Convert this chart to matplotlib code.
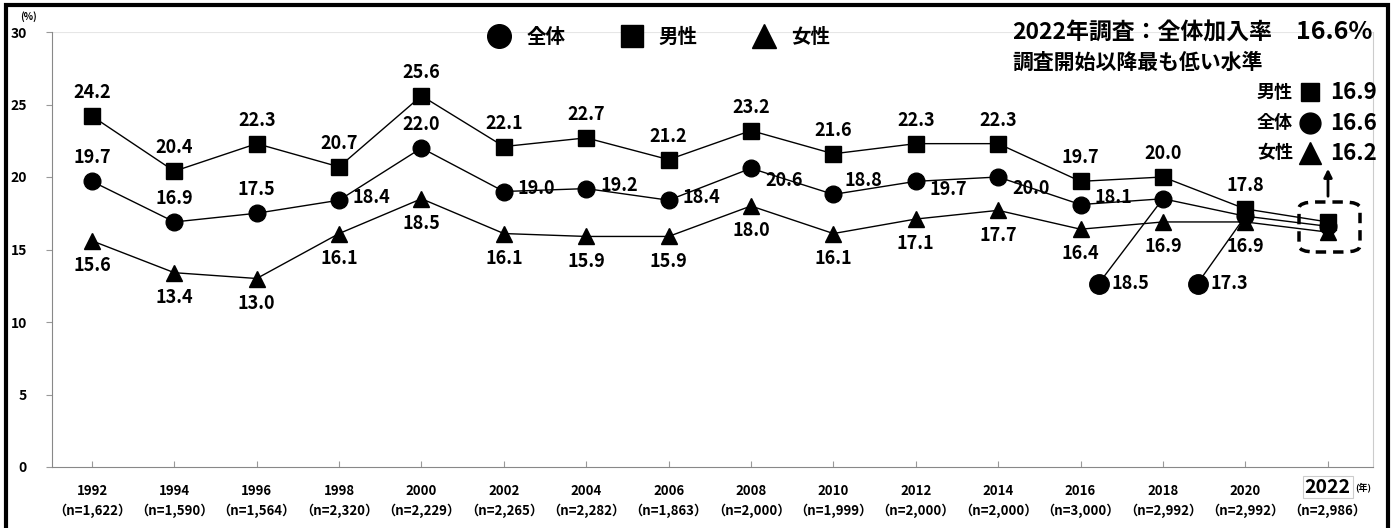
import numpy as np
import matplotlib
matplotlib.use("Agg")
import matplotlib.pyplot as plt
from matplotlib.lines import Line2D
from matplotlib.patches import Rectangle, FancyBboxPatch, FancyArrowPatch

plt.rcParams['font.family'] = ['Noto Sans CJK JP', 'DejaVu Sans']
plt.rcParams['font.weight'] = 'bold'

years = [1992, 1994, 1996, 1998, 2000, 2002, 2004, 2006, 2008, 2010,
         2012, 2014, 2016, 2018, 2020, 2022]
n_labels = ["1,622", "1,590", "1,564", "2,320", "2,229", "2,265", "2,282", "1,863",
            "2,000", "1,999", "2,000", "2,000", "3,000", "2,992", "2,992", "2,986"]
total = [19.7, 16.9, 17.5, 18.4, 22.0, 19.0, 19.2, 18.4, 20.6, 18.8,
         19.7, 20.0, 18.1, 18.5, 17.3, 16.6]
male = [24.2, 20.4, 22.3, 20.7, 25.6, 22.1, 22.7, 21.2, 23.2, 21.6,
        22.3, 22.3, 19.7, 20.0, 17.8, 16.9]
female = [15.6, 13.4, 13.0, 16.1, 18.5, 16.1, 15.9, 15.9, 18.0, 16.1,
          17.1, 17.7, 16.4, 16.9, 16.9, 16.2]

W, H = 1393, 528
fig = plt.figure(figsize=(W / 100, H / 100), dpi=100)
ax = fig.add_axes([52 / W, 1 - 467 / H, (1373 - 52) / W, (467 - 32) / H])


def px(x, y):
    return (x / W, 1 - y / H)


lw = 1.0
ax.plot(years, male, color='black', lw=lw, marker='s', ms=11, zorder=3)
ax.plot(years, total, color='black', lw=lw, marker='o', ms=12, zorder=3)
ax.plot(years, female, color='black', lw=lw, marker='^', ms=12, zorder=3)

ax.set_xlim(1991.03, 2023.1)
ax.set_ylim(0, 30)
ax.set_yticks(range(0, 31, 5))
ax.set_xticks(years)
ax.set_xticklabels([])
ax.tick_params(axis='x', direction='in', length=4, color='#999999')
ax.tick_params(axis='y', direction='out', length=4, color='#999999',
               labelsize=10, pad=14)
for lab in ax.get_yticklabels():
    lab.set_fontweight('bold')
ax.axhline(30, color='#e6e6e6', lw=0.8, zorder=0)
for s in ['left', 'bottom']:
    ax.spines[s].set_color('#888888')
ax.spines['right'].set_color('#cccccc')
ax.spines['top'].set_visible(False)

fs = 13
# male labels above
for x, v in zip(years[:-1], male[:-1]):
    ax.annotate(f"{v:.1f}", (x, v), xytext=(0, 10), textcoords='offset points',
                ha='center', va='bottom', fontsize=fs, fontweight='bold')

# female labels below
for x, v in zip(years[:-1], female[:-1]):
    ax.annotate(f"{v:.1f}", (x, v), xytext=(0, -11), textcoords='offset points',
                ha='center', va='top', fontsize=fs, fontweight='bold')

# total labels
above = {1992, 1994, 1996, 2000}
right_off = {1998: (10, 2), 2002: (10, 2), 2004: (10, 2), 2006: (10, 2),
             2008: (10, -9), 2010: (8, 10), 2012: (10, -6), 2014: (10, -8),
             2016: (10, 5)}
for x, v in zip(years, total):
    if x in above:
        ax.annotate(f"{v:.1f}", (x, v), xytext=(0, 10), textcoords='offset points',
                    ha='center', va='bottom', fontsize=fs, fontweight='bold')
    elif x in right_off:
        ax.annotate(f"{v:.1f}", (x, v), xytext=right_off[x], textcoords='offset points',
                    ha='left', va='center', fontsize=fs, fontweight='bold')

# callouts for 2018 and 2020
callouts = {2018: (2016.44, 12.65), 2020: (2018.84, 12.65)}
for x, v in zip(years, total):
    if x in callouts:
        cx, cy = callouts[x]
        ax.plot([x, cx], [v, cy], color='black', lw=lw, zorder=2)
        ax.plot(cx, cy, marker='o', ms=14, color='black', zorder=3)
        ax.annotate(f"{v:.1f}", (cx, cy), xytext=(9, 0), textcoords='offset points',
                    ha='left', va='center', fontsize=fs, fontweight='bold')

# x labels
xt = ax.get_xaxis_transform()
for x, n in zip(years, n_labels):
    if x == 2022:
        ax.text(x, -0.046, str(x), transform=xt,
                ha='center', va='center', fontsize=14, fontweight='bold',
                bbox=dict(boxstyle='square,pad=0.1', fc='white', ec='#cccccc', lw=0.8))
        ax.text(x + 0.68, -0.046, "(年)", transform=xt,
                ha='left', va='center', fontsize=6.5, fontweight='bold')
    else:
        ax.text(x, -0.055, str(x), transform=xt,
                ha='center', va='center', fontsize=9.5, fontweight='bold')
    ax.text(x, -0.1, f"（n={n}）", transform=xt,
            ha='center', va='center', fontsize=9.5, fontweight='bold')

fig.text(*px(20, 17), "(%)", fontsize=7, fontweight='bold', ha='left', va='center')

# legend
handles = [Line2D([], [], marker='o', color='black', ls='none', ms=17),
           Line2D([], [], marker='s', color='black', ls='none', ms=16),
           Line2D([], [], marker='^', color='black', ls='none', ms=17)]
fig.legend(handles, ["全体", "男性", "女性"], loc='center', bbox_to_anchor=px(655, 37),
           ncol=3, frameon=False, handletextpad=0.4, columnspacing=2.4,
           prop={'weight': 'bold', 'size': 14})

# top-right annotation
fig.text(*px(1012, 33), "2022年調査：全体加入率", fontsize=16.5, fontweight='bold',
         ha='left', va='center')
fig.text(*px(1372, 32), "16.6%", fontsize=18, fontweight='bold', ha='right', va='center')
fig.text(*px(1012, 62), "調査開始以降最も低い水準", fontsize=15, fontweight='bold',
         ha='left', va='center')
side = [("男性", 's', 13, male[-1], 92), ("全体", 'o', 15, total[-1], 123),
        ("女性", '^', 16, female[-1], 153)]
for name, mk, ms, v, yy in side:
    fig.text(*px(1293, yy), name, fontsize=13, fontweight='bold', ha='right', va='center')
    fig.lines.append(Line2D([px(1310, yy)[0]], [px(1310, yy)[1]], marker=mk, color='black',
                            ms=ms, transform=fig.transFigure))
    fig.text(*px(1377, yy), f"{v:.1f}", fontsize=16, fontweight='bold', ha='right', va='center')

# arrow and dashed box
fig.add_artist(FancyArrowPatch(px(1328, 199), px(1328, 166), transform=fig.transFigure,
                               arrowstyle='-|>', mutation_scale=12, lw=2, color='black'))
x0, y0 = px(1299, 252)
x1, y1 = px(1360, 202)
fig.add_artist(FancyBboxPatch((x0, y0), x1 - x0, y1 - y0,
                              boxstyle='round,pad=0,rounding_size=0.012',
                              transform=fig.transFigure, fill=False, ec='black',
                              lw=2.5, ls=(0, (3, 2))))

# outer frame
fig.add_artist(Rectangle(px(6, 540), (1388 - 6) / W, (540 - 5) / H, transform=fig.transFigure,
                         fill=False, ec='black', lw=3, clip_on=False))

fig.savefig("out.png", dpi=100)
